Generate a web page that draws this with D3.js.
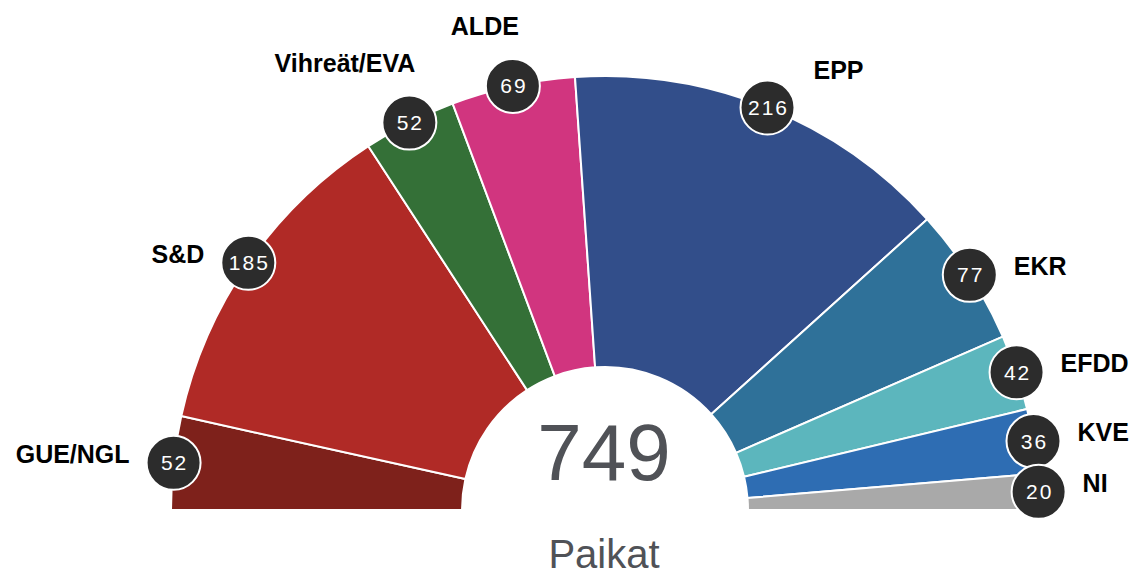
<!DOCTYPE html>
<html>
<head>
<meta charset="utf-8">
<script src="https://cdn.jsdelivr.net/npm/d3@7"></script>
<style>
  html, body { margin: 0; padding: 0; background: #fff; }
  svg { display: block; }
</style>
</head>
<body>
<svg id="chart" width="1133" height="574"></svg>
<script>
var width = 1133,
    height = 574;

// parties, left to right
var parties = ["GUE/NGL", "S&D", "Vihreät/EVA", "ALDE", "EPP", "EKR", "EFDD", "KVE", "NI"];
var seats = [52, 185, 52, 69, 216, 77, 42, 36, 20];
var colors = ["#7e211b", "#b02a26", "#347037", "#d1357f", "#324e8a", "#2f7199", "#5cb6bd", "#2e6db3", "#a9a9a9"];
var totalLabel = "Paikat";

var cx = 605, cy = 510,
    outerR = 434, innerR = 143;

var svg = d3.select("#chart");

var data = parties.map(function(p, i) {
  return {name: p, value: seats[i], color: colors[i]};
});

var pie = d3.pie()
    .sort(null)
    .value(function(d) { return d.value; })
    .startAngle(-Math.PI / 2)
    .endAngle(Math.PI / 2);

var arcs = pie(data);

var arc = d3.arc()
    .innerRadius(innerR)
    .outerRadius(outerR);

var g = svg.append("g")
    .attr("transform", "translate(" + cx + "," + cy + ")");

g.selectAll("path.slice")
  .data(arcs)
  .enter().append("path")
    .attr("class", "slice")
    .attr("d", arc)
    .attr("fill", function(d) { return d.data.color; })
    .attr("stroke", "#fff")
    .attr("stroke-width", 2)
    .attr("stroke-linejoin", "round");

// bubble position on the outer edge at the middle of each slice
function bubblePos(d) {
  var a = (d.startAngle + d.endAngle) / 2;
  return [outerR * Math.sin(a), -outerR * Math.cos(a), a];
}

// party name beside the bubble
function labelPos(d) {
  var b = bubblePos(d);
  var fromHoriz = 90 - Math.abs(b[2]) * 180 / Math.PI;
  var left = b[2] < 0;
  if (fromHoriz < 50) {
    return {x: b[0] + (left ? -44 : 44), y: b[1] - 9, anchor: left ? "end" : "start"};
  } else if (left) {
    return {x: b[0] + 6, y: b[1] - 60, anchor: "end"};
  } else {
    return {x: b[0] + 46, y: b[1] - 38, anchor: "start"};
  }
}

var bubbles = g.selectAll("g.bubble")
  .data(arcs)
  .enter().append("g")
    .attr("class", "bubble")
    .attr("transform", function(d) {
      var p = bubblePos(d);
      return "translate(" + p[0] + "," + p[1] + ")";
    });

bubbles.append("circle")
    .attr("r", 27)
    .attr("fill", "#2c2c2c")
    .attr("stroke", "#fff")
    .attr("stroke-width", 2);

bubbles.append("text")
    .attr("text-anchor", "middle")
    .attr("dy", "0.36em")
    .attr("dx", 1)
    .style("font-family", "'Liberation Sans', Arial, sans-serif")
    .style("font-size", "21px")
    .style("letter-spacing", "2px")
    .style("fill", "#fff")
    .text(function(d) { return d.data.value; });

g.selectAll("text.party")
  .data(arcs)
  .enter().append("text")
    .attr("class", "party")
    .attr("x", function(d) { return labelPos(d).x; })
    .attr("y", function(d) { return labelPos(d).y; })
    .attr("dy", "0.36em")
    .attr("text-anchor", function(d) { return labelPos(d).anchor; })
    .style("font-family", "'Liberation Sans', Arial, sans-serif")
    .style("font-weight", "bold")
    .style("font-size", "25px")
    .style("fill", "#000")
    .text(function(d) { return d.data.name; });

var total = d3.sum(seats);

svg.append("text")
    .attr("x", cx - 1)
    .attr("y", 480)
    .attr("text-anchor", "middle")
    .style("font-family", "'Liberation Sans', Arial, sans-serif")
    .style("font-size", "80px")
    .style("fill", "#505257")
    .text(total);

svg.append("text")
    .attr("x", cx - 1)
    .attr("y", 568)
    .attr("text-anchor", "middle")
    .style("font-family", "'Liberation Sans', Arial, sans-serif")
    .style("font-size", "40px")
    .style("fill", "#505257")
    .text(totalLabel);
</script>
</body>
</html>
